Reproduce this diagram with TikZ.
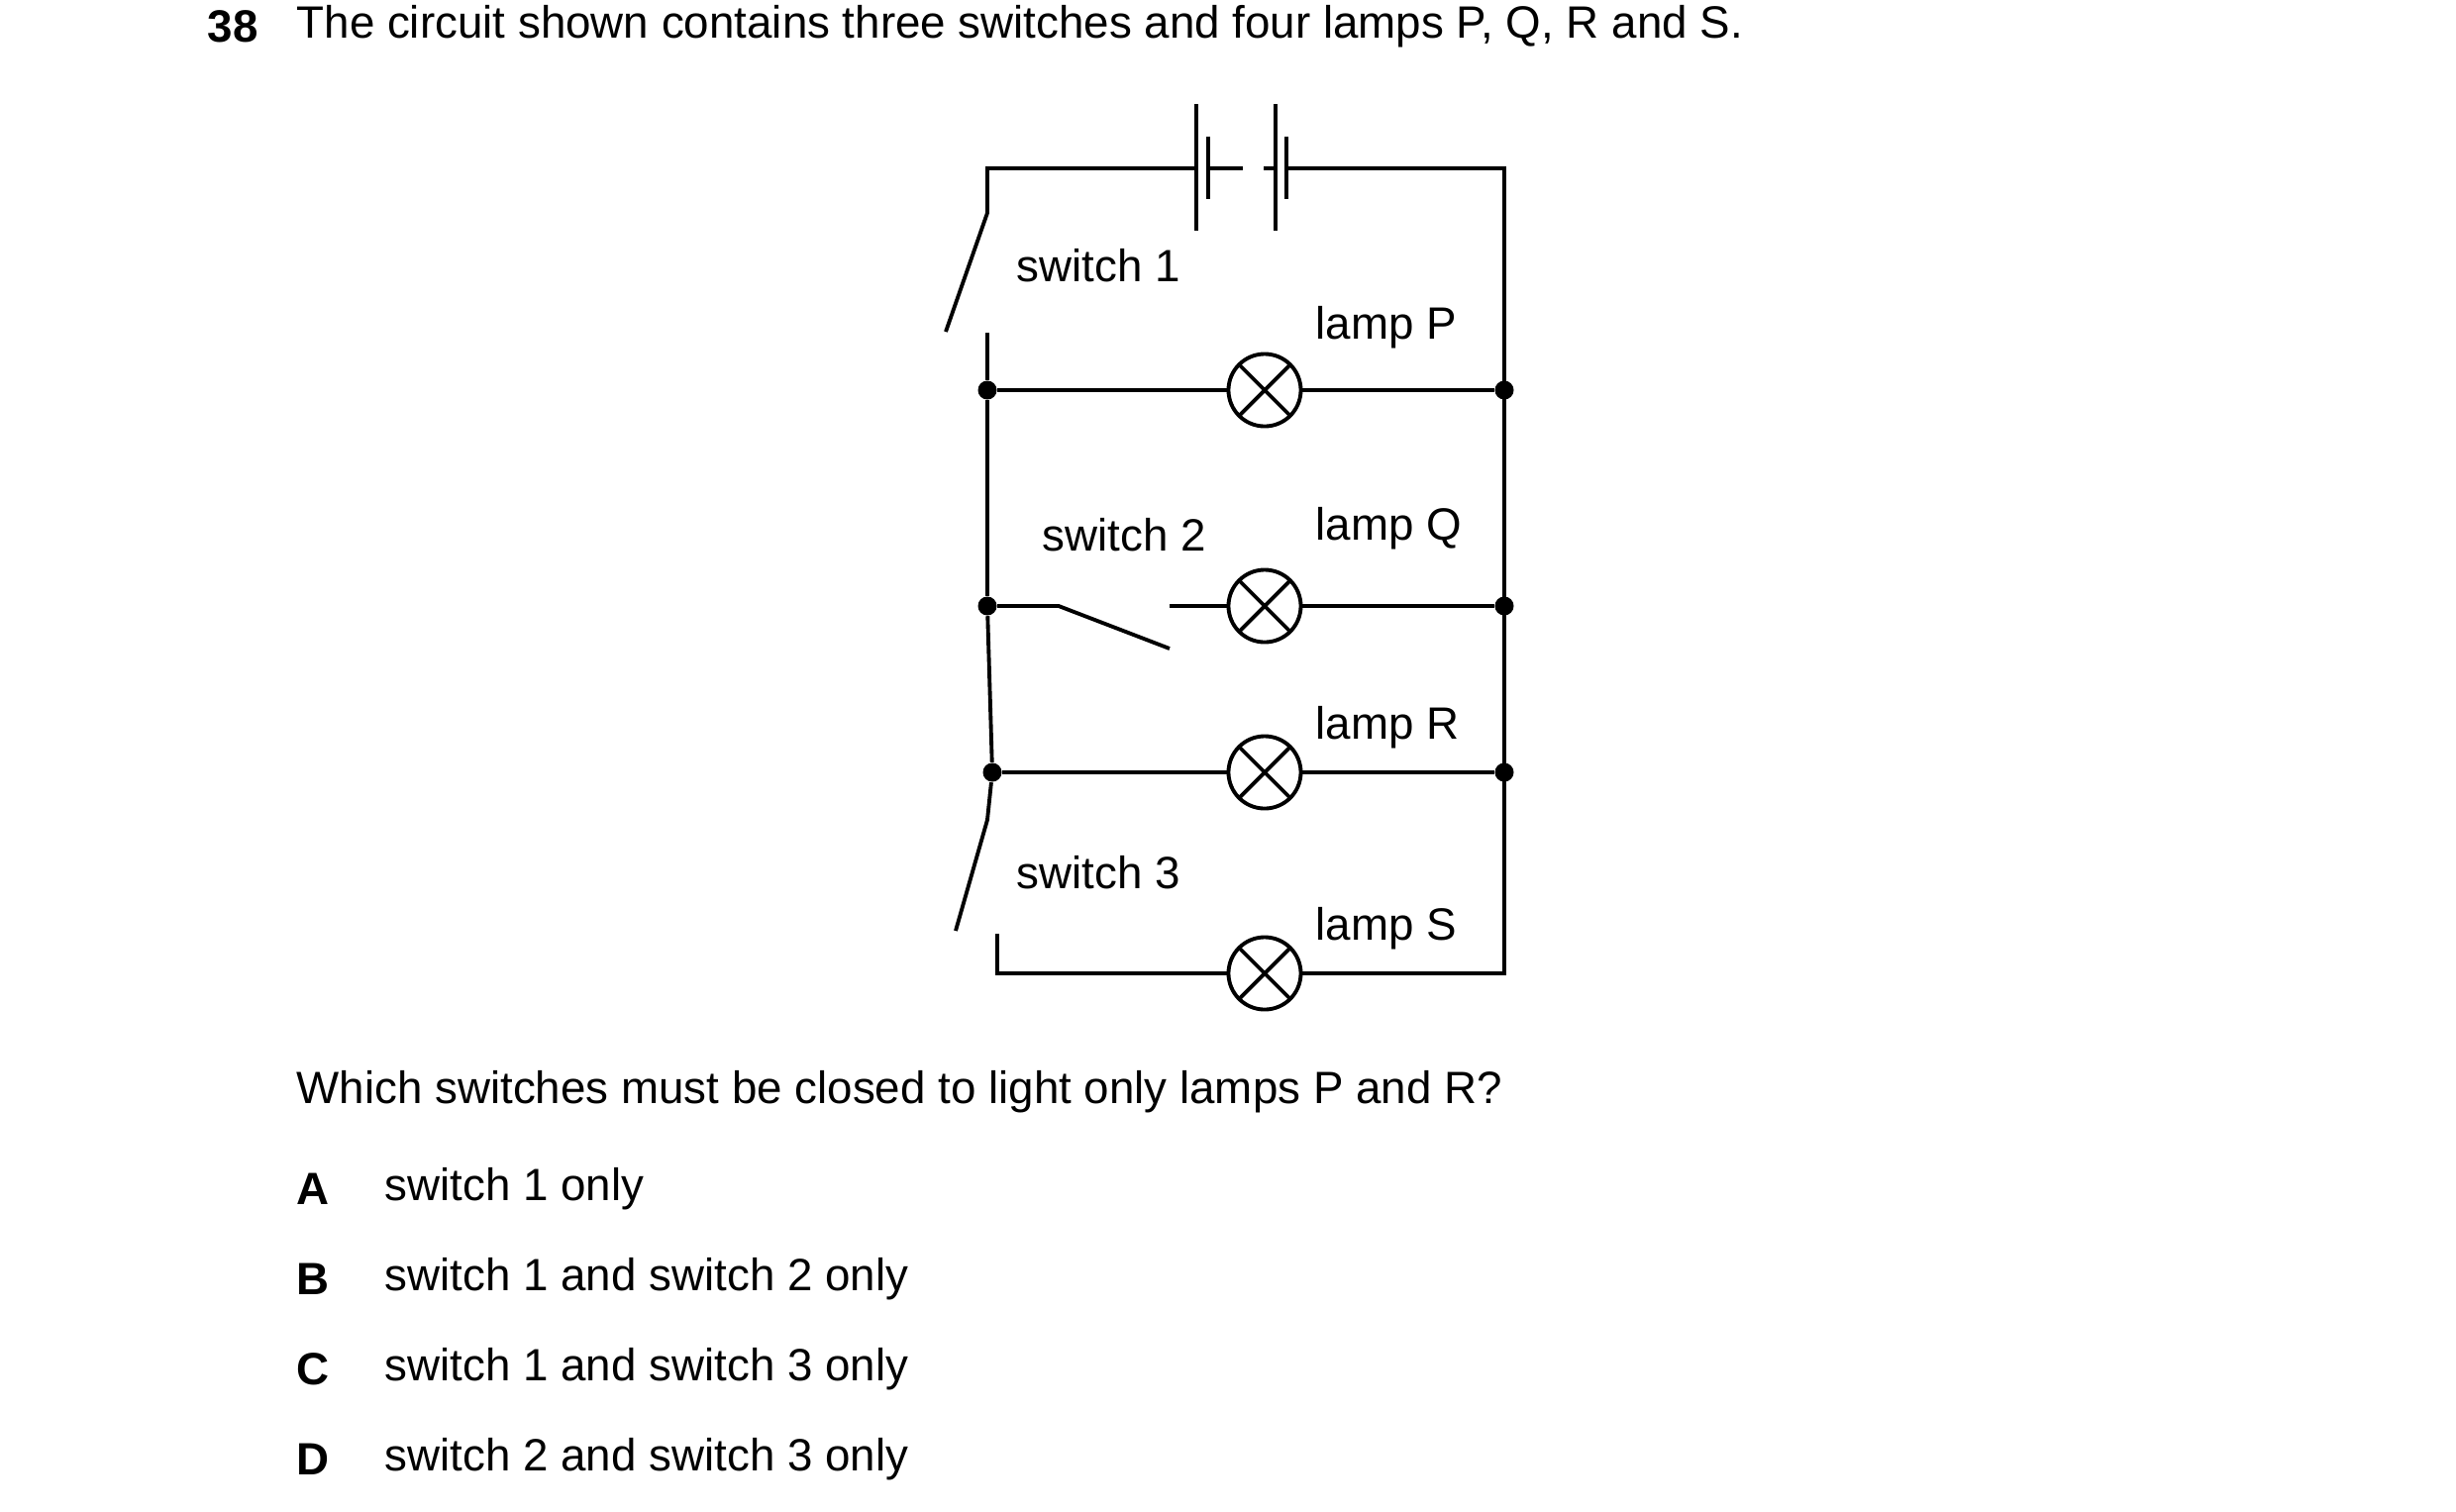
\documentclass[tikz,border=0pt]{standalone}
\usepackage{fontspec}
\setmainfont{Liberation Sans}
\usetikzlibrary{calc}
\tikzset{ lamp/.style = { circle
                        , draw
                        , line width   = 1.1pt
                        , inner sep    = 0pt
                        , minimum size = 7.3mm
                        , path picture = {\draw[line width=1.1pt]
                              (path picture bounding box.south west) -- (path picture bounding box.north east)
                              (path picture bounding box.north west) -- (path picture bounding box.south east);}
                        },
          dot/.style  = { circle
                        , fill
                        , inner sep    = 0pt
                        , minimum size = 1.9mm
                        },
          lbl/.style  = { anchor = west
                        , inner sep = 0pt
                        , font = \fontsize{13}{15}\selectfont
                        },
          wire/.style = { line width = 1.1pt }
        }
\begin{document}
\begin{tikzpicture}[x=0.01cm, y=-0.01cm]
    \useasboundingbox (0,0) rectangle (2480,1526);
    % question text
    \node[lbl, font=\fontsize{13}{15}\selectfont\bfseries] (num) at (209,27) {38};
    \node[lbl] (title) at (299,27) {The circuit shown contains three switches and four lamps P, Q, R and S.};
    % corners and switch contacts
    \coordinate (tl) at (997,170);
    \coordinate (tr) at (1519,170);
    \coordinate (s1a) at (997,215);
    \coordinate (s1b) at (955,335);
    \coordinate (s1c) at (997,336);
    \coordinate (s3a) at (997,828);
    \coordinate (s3b) at (965,940);
    \coordinate (s3c) at (1007,943);
    \coordinate (bl) at (1007,983);
    \coordinate (br) at (1519,983);
    \coordinate (s2a) at (1069,612);
    \coordinate (s2b) at (1181,655);
    \coordinate (s2c) at (1181,612);
    % junctions
    \node[dot] (lp) at (997,394) {};
    \node[dot] (rp) at (1519,394) {};
    \node[dot] (lq) at (997,612) {};
    \node[dot] (rq) at (1519,612) {};
    \node[dot] (lr) at (1002,780) {};
    \node[dot] (rr) at (1519,780) {};
    % lamps
    \node[lamp] (P) at (1277,394) {};
    \node[lamp] (Q) at (1277,612) {};
    \node[lamp] (R) at (1277,780) {};
    \node[lamp] (S) at (1277,983) {};
    % battery
    \coordinate (b1) at (1208,170);
    \coordinate (b2) at (1220,170);
    \coordinate (b3) at (1288,170);
    \coordinate (b4) at (1299,170);
    \draw[wire] ($(b1)+(0,-65)$) -- ($(b1)+(0,63)$);
    \draw[wire] ($(b2)+(0,-32)$) -- ($(b2)+(0,31)$);
    \draw[wire] ($(b3)+(0,-65)$) -- ($(b3)+(0,63)$);
    \draw[wire] ($(b4)+(0,-32)$) -- ($(b4)+(0,31)$);
    \draw[wire, dash pattern=on 10pt off 6pt] (b2) -- (b3);
    % wires
    \draw[wire] (b1) -- (tl) -- (s1a) -- (s1b);
    \draw[wire] (b4) -- (tr) -- (br) -- (S) -- (bl) -- (s3c);
    \draw[wire] (s1c) -- (lp) -- (lq) -- (lr) -- (s3a) -- (s3b);
    \draw[wire] (lp) -- (P) -- (rp);
    \draw[wire] (lq) -- (s2a) -- (s2b);
    \draw[wire] (s2c) -- (Q) -- (rq);
    \draw[wire] (lr) -- (R) -- (rr);
    % labels
    \node[lbl] (sw1) at (1026,268) {switch 1};
    \node[lbl] (sw2) at (1052,540) {switch 2};
    \node[lbl] (sw3) at (1026,881) {switch 3};
    \node[lbl] (lP) at (1328,331) {lamp P};
    \node[lbl] (lQ) at (1328,534) {lamp Q};
    \node[lbl] (lR) at (1328,735) {lamp R};
    \node[lbl] (lS) at (1328,938) {lamp S};
    % question and options
    \node[lbl] (ask) at (299,1103) {Which switches must be closed to light only lamps P and R?};
    \foreach \k/\t [count=\i] in {A/switch 1 only, B/switch 1 and switch 2 only,
                                  C/switch 1 and switch 3 only, D/switch 2 and switch 3 only} {
        \node[lbl, font=\fontsize{13}{15}\selectfont\bfseries] (opt\i) at (299,1110+\i*91) {\k};
        \node[lbl] (txt\i) at (388,1110+\i*91) {\t};
    }
\end{tikzpicture}
\end{document}
